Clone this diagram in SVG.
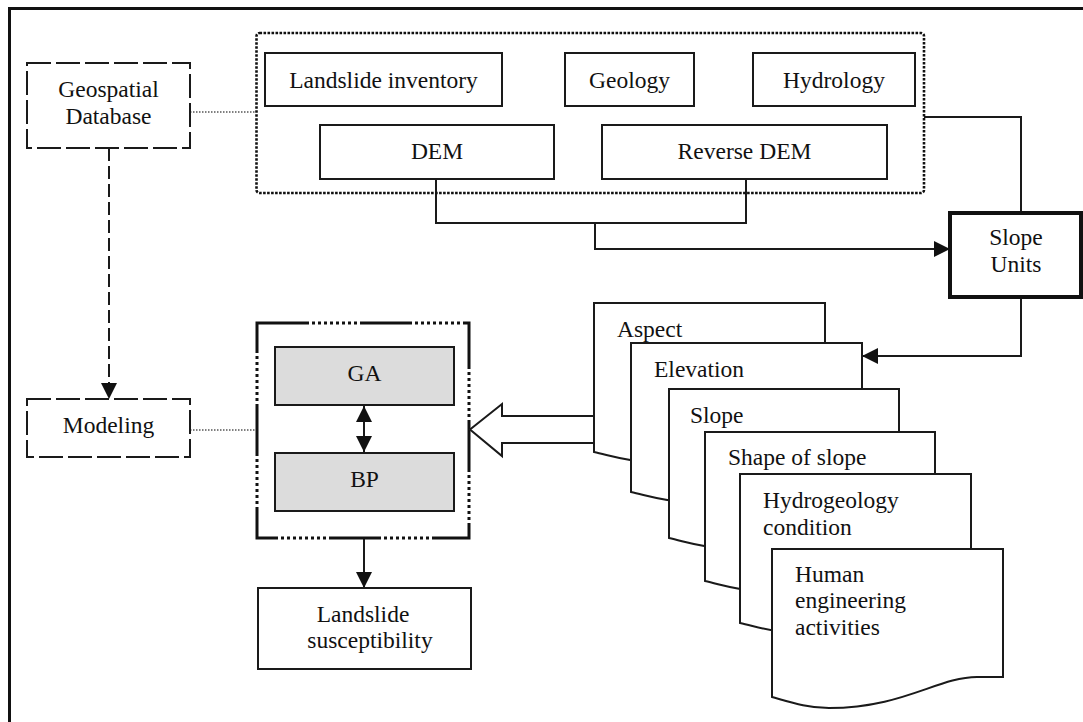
<svg xmlns="http://www.w3.org/2000/svg" width="1083" height="722" viewBox="0 0 1083 722">
<defs>
<style>
text{font-family:"Liberation Serif","Times New Roman",serif;font-size:23.5px;fill:#111}
.c{text-anchor:middle}
.box{fill:#fff;stroke:#1a1a1a;stroke-width:2}
.gray{fill:#dcdcdc;stroke:#1a1a1a;stroke-width:2}
.dash{fill:#fff;stroke:#1a1a1a;stroke-width:2;stroke-dasharray:24 5}
.ln{fill:none;stroke:#1a1a1a;stroke-width:2}
.dot{fill:none;stroke:#555;stroke-width:1.3;stroke-dasharray:1.5 1.5}
.doc{fill:#fff;stroke:#1a1a1a;stroke-width:2}
</style>
<marker id="ah" viewBox="0 0 16 16" refX="16" refY="8" markerWidth="16" markerHeight="16" markerUnits="userSpaceOnUse" orient="auto-start-reverse">
<path d="M0,0 L16,8 L0,16 Z" fill="#111"/>
</marker>
</defs>
<rect width="1083" height="722" fill="#fff"/>
<path d="M9.5,722 V8.5 H1083" fill="none" stroke="#111" stroke-width="3"/>

<g id="connectors">
<line class="dot" x1="190" y1="112" x2="256" y2="112"/>
<line class="dot" x1="190" y1="430" x2="256" y2="430"/>
<line x1="109" y1="148" x2="109" y2="399" stroke="#1a1a1a" stroke-width="2" stroke-dasharray="13 5" marker-end="url(#ah)"/>
<path class="ln" d="M436,179 V223 H746 V179"/>
<path class="ln" d="M595,223 V249 H950" marker-end="url(#ah)"/>
<path class="ln" d="M924,117 H1021 V213"/>
<path class="ln" d="M1021,297 V356 H862" marker-end="url(#ah)"/>
<line class="ln" x1="364" y1="406" x2="364" y2="452" marker-start="url(#ah)" marker-end="url(#ah)"/>
<line class="ln" x1="364" y1="538" x2="364" y2="588" marker-end="url(#ah)"/>
</g>

<g id="geospatial">
<rect class="dash" x="27" y="63" width="163" height="85"/>
<text class="c" x="108.5" y="97">Geospatial</text>
<text class="c" x="108.5" y="124">Database</text>
</g>

<g id="data-group">
<rect x="256.5" y="33" width="667.5" height="160" rx="3" fill="none" stroke="#111" stroke-width="2.6" stroke-dasharray="2.6 1.4"/>
</g>
<g id="landslide-inventory">
<rect class="box" x="265" y="53" width="237" height="53"/>
<text class="c" x="383.5" y="88">Landslide inventory</text>
</g>
<g id="geology">
<rect class="box" x="565" y="53" width="129" height="53"/>
<text class="c" x="629.5" y="88">Geology</text>
</g>
<g id="hydrology">
<rect class="box" x="753" y="53" width="162" height="53"/>
<text class="c" x="834" y="88">Hydrology</text>
</g>
<g id="dem">
<rect class="box" x="320" y="125" width="234" height="54"/>
<text class="c" x="437" y="159">DEM</text>
</g>
<g id="reverse-dem">
<rect class="box" x="602" y="125" width="285" height="54"/>
<text class="c" x="744.5" y="159">Reverse DEM</text>
</g>

<g id="slope-units">
<rect x="950" y="213" width="131" height="84" fill="#fff" stroke="#111" stroke-width="4"/>
<text class="c" x="1016" y="245">Slope</text>
<text class="c" x="1016" y="272">Units</text>
</g>

<g id="modeling">
<rect class="dash" x="27" y="399" width="163" height="58"/>
<text class="c" x="108.5" y="433">Modeling</text>
</g>

<g id="model-group">
<rect x="257" y="323" width="212" height="215" fill="none" stroke="#111" stroke-width="3" stroke-dasharray="52 3 3 3 3 3 3 3 3 3 3 3 3 3 3 3 3 3"/>
</g>
<g id="ga">
<rect class="gray" x="275" y="347" width="179" height="58"/>
<text class="c" x="364.5" y="381">GA</text>
</g>
<g id="bp">
<rect class="gray" x="275" y="453" width="179" height="58"/>
<text class="c" x="364.5" y="487">BP</text>
</g>

<g id="landslide-susceptibility">
<rect class="box" x="258" y="588" width="213" height="81"/>
<text class="c" x="363" y="622">Landslide</text>
<text class="c" x="370" y="648">susceptibility</text>
</g>

<g id="input-arrow">
<path d="M594,416 H502 V404 L470,429.5 L502,456 V443 H594" fill="#fff" stroke="#1a1a1a" stroke-width="2"/>
</g>

<g id="aspect">
<path class="doc" d="M594,303 H825 V432 H799 C760,432 725,462 651,462 C630,462 612,456 594,452 Z"/>
<text x="617" y="337">Aspect</text>
</g>
<g id="elevation">
<path class="doc" d="M631,343 H862 V472 H836 C797,472 762,502 688,502 C667,502 649,496 631,492 Z"/>
<text x="654" y="377">Elevation</text>
</g>
<g id="slope">
<path class="doc" d="M669,389 H899 V518 H873 C834,518 799,548 725,548 C704,548 687,542 669,538 Z"/>
<text x="690" y="423">Slope</text>
</g>
<g id="shape-of-slope">
<path class="doc" d="M705,432 H935 V561 H909 C870,561 835,591 761,591 C740,591 723,585 705,581 Z"/>
<text x="728" y="465">Shape of slope</text>
</g>
<g id="hydrogeology">
<path class="doc" d="M740,474 H971 V603 H945 C906,603 871,633 797,633 C776,633 758,627 740,623 Z"/>
<text x="763" y="508">Hydrogeology</text>
<text x="763" y="535">condition</text>
</g>
<g id="human">
<path class="doc" d="M772,549 H1003 V677 H977 C938,677 903,708 829,708 C808,708 790,702 772,697 Z"/>
<text x="795" y="582">Human</text>
<text x="795" y="608">engineering</text>
<text x="795" y="635">activities</text>
</g>
</svg>
